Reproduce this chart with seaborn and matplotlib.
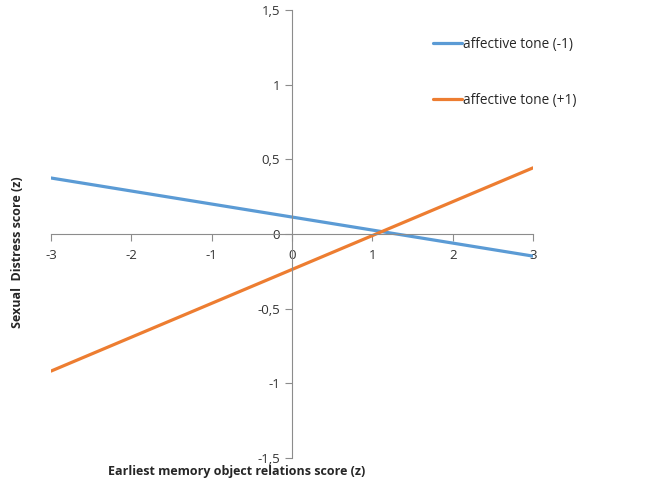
import matplotlib
matplotlib.use("Agg")
import matplotlib.pyplot as plt
import seaborn as sns
import pandas as pd
from matplotlib.lines import Line2D

# values
x_vals = [-3, 3]
tone_neg = [0.375, -0.148]
tone_pos = [-0.918, 0.443]
series_names = ["affective tone (-1)", "affective tone (+1)"]
colors = ["#5B9BD5", "#ED7D31"]
x_ticks = [-3, -2, -1, 0, 1, 2, 3]
y_ticks = [-1.5, -1, -0.5, 0, 0.5, 1, 1.5]

df = pd.DataFrame({
    "x": x_vals + x_vals,
    "y": tone_neg + tone_pos,
    "series": [series_names[0]] * 2 + [series_names[1]] * 2,
})

sns.set_style("white")
plt.rcParams["font.family"] = ["Open Sans", "DejaVu Sans"]

fig = plt.figure(figsize=(6.59, 4.83), dpi=100)
ax = fig.add_axes([51 / 659, 25 / 483, 482 / 659, 448 / 483])

sns.lineplot(data=df, x="x", y="y", hue="series", palette=colors,
             linewidth=2.3, ax=ax, legend=False)

ax.set_xlim(-3, 3)
ax.set_ylim(-1.5, 1.5)

# axes crossing at the origin
ax.spines["left"].set_position(("data", 0))
ax.spines["bottom"].set_position(("data", 0))
ax.spines["right"].set_visible(False)
ax.spines["top"].set_visible(False)
for s in ["left", "bottom"]:
    ax.spines[s].set_color("#8c8c8c")
    ax.spines[s].set_linewidth(0.8)

ax.set_xticks(x_ticks)
ax.set_xticklabels([str(t) for t in x_ticks])
ax.set_yticks(y_ticks)
ax.set_yticklabels([("%g" % t).replace(".", ",") for t in y_ticks])
ax.tick_params(axis="both", direction="out", length=5, color="#8c8c8c",
               labelsize=9.5, labelcolor="#333333", width=0.8,
               bottom=True, left=True)
ax.tick_params(axis="x", pad=6)

ax.set_xlabel("")
ax.set_ylabel("")

fig.text(237 / 659, 1 - 472 / 483, "Earliest memory object relations score (z)",
         ha="center", va="center", fontsize=9, fontweight="bold")
fig.text(18 / 659, 1 - 252 / 483, "Sexual  Distress score (z)", rotation=90,
         ha="center", va="center", fontsize=9, fontweight="bold")

handles = [Line2D([0], [0], color=c, linewidth=2.3) for c in colors]
fig.legend(handles, series_names, loc="upper left",
           bbox_to_anchor=(421 / 659, 1 - 25 / 483), frameon=False,
           fontsize=9.8, handlelength=2.1, handletextpad=0.1,
           labelspacing=3.0)

fig.savefig("out.png", dpi=100)
